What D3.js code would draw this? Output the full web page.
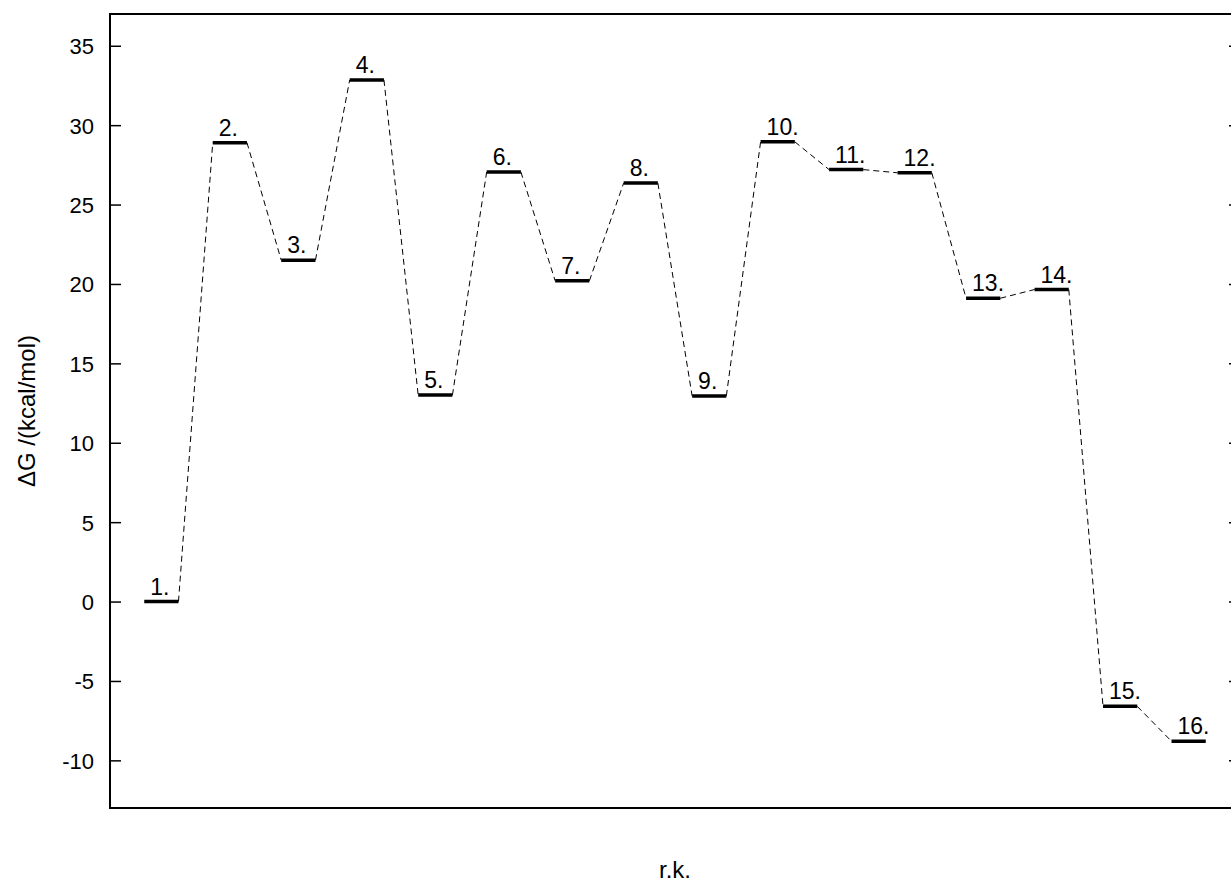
<!DOCTYPE html>
<html>
<head>
<meta charset="utf-8">
<script src="https://cdn.jsdelivr.net/npm/d3@7"></script>
<style>
  body { margin: 0; background: #fff; }
  text { font-family: "Liberation Sans", Arial, sans-serif; }
</style>
</head>
<body>
<svg></svg>
<script>
const width = 1231;
const height = 882;

// reaction steps and their free energies
const steps = [1, 2, 3, 4, 5, 6, 7, 8, 9, 10, 11, 12, 13, 14, 15, 16];
const labels = ["1.", "2.", "3.", "4.", "5.", "6.", "7.", "8.", "9.", "10.", "11.", "12.", "13.", "14.", "15.", "16."];
const energies = [0, 28.9, 21.5, 32.85, 13.0, 27.05, 20.2, 26.35, 12.95, 28.95, 27.2, 27.0, 19.1, 19.65, -6.6, -8.8];
const yTicks = [-10, -5, 0, 5, 10, 15, 20, 25, 30, 35];

const svg = d3.select("svg").attr("width", width).attr("height", height);

const mLeft = 110, mRight = 1240, mTop = 14, mBottom = 808;
const half = 0.25;

const x = d3.scaleLinear().domain([0.25, 16.75]).range([mLeft, mRight]);
const y = d3.scaleLinear().domain([-13, 37]).range([mBottom, mTop]);

const data = steps.map((s, i) => ({ s, e: energies[i], label: labels[i] }));

// okvir
svg.append("rect")
  .attr("x", mLeft).attr("y", mTop)
  .attr("width", mRight - mLeft).attr("height", mBottom - mTop)
  .attr("fill", "none").attr("stroke", "#000").attr("stroke-width", 2);

// lijeva os, crtice prema unutra
const yAxis = svg.append("g")
  .attr("transform", `translate(${mLeft},0)`)
  .call(d3.axisRight(y).tickValues(yTicks).tickSize(11).tickFormat(""));
yAxis.select(".domain").remove();
yAxis.selectAll("line").attr("stroke-width", 1.5);

yAxis.selectAll(".tick").append("text")
  .attr("x", -16).attr("dy", "0.36em")
  .attr("text-anchor", "end")
  .attr("fill", "#000")
  .style("font-size", "22px")
  .text(d => d);

// desne crtice
const yAxisR = svg.append("g")
  .attr("transform", `translate(${mRight},0)`)
  .call(d3.axisLeft(y).tickValues(yTicks).tickSize(11).tickFormat(""));
yAxisR.select(".domain").remove();
yAxisR.selectAll("line").attr("stroke-width", 1.5);

// isprekidane veze
const links = d3.pairs(data);
svg.append("g").selectAll("line")
  .data(links)
  .join("line")
  .attr("x1", d => x(d[0].s + half))
  .attr("y1", d => y(d[0].e))
  .attr("x2", d => x(d[1].s - half))
  .attr("y2", d => y(d[1].e))
  .attr("stroke", "#000")
  .attr("stroke-width", 1)
  .attr("stroke-dasharray", "6,4");

// razine
svg.append("g").selectAll("line")
  .data(data)
  .join("line")
  .attr("x1", d => x(d.s - half))
  .attr("x2", d => x(d.s + half))
  .attr("y1", d => y(d.e))
  .attr("y2", d => y(d.e))
  .attr("stroke", "#000")
  .attr("stroke-width", 3.5);

// oznake razina
svg.append("g").selectAll("text")
  .data(data)
  .join("text")
  .attr("x", d => x(d.s - half) + 6)
  .attr("y", d => y(d.e) - 7)
  .style("font-size", "23px")
  .text(d => d.label);

// naslovi osi
svg.append("text")
  .attr("transform", `translate(35,${(mTop + mBottom) / 2}) rotate(-90)`)
  .attr("text-anchor", "middle")
  .style("font-size", "24px")
  .text("ΔG /(kcal/mol)");

svg.append("text")
  .attr("x", (mLeft + mRight) / 2)
  .attr("y", 878)
  .attr("text-anchor", "middle")
  .style("font-size", "24px")
  .text("r.k.");
</script>
</body>
</html>
